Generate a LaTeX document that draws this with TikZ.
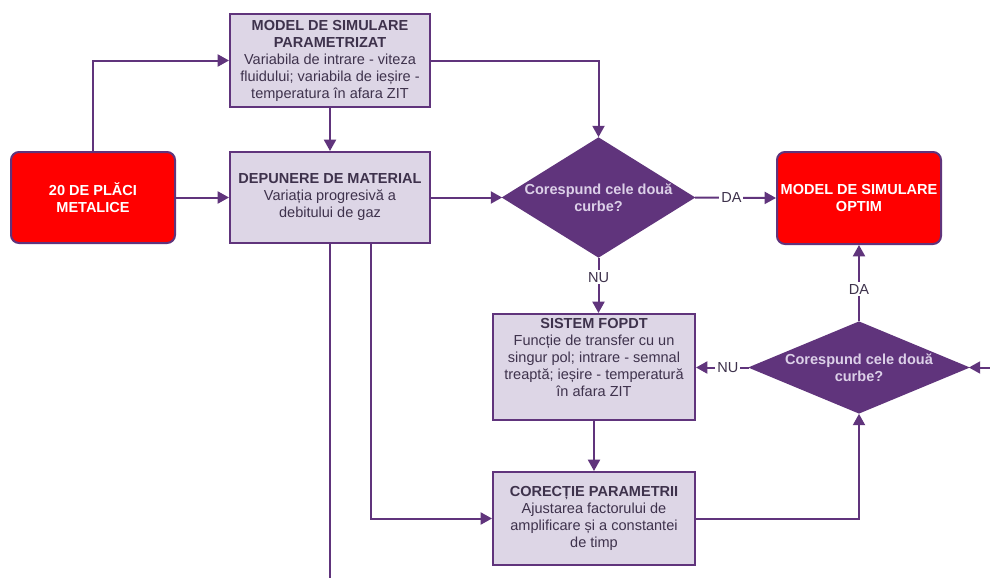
\documentclass[tikz,border=0pt]{standalone}
\usepackage{fontspec}
\setmainfont{Liberation Sans}
\usetikzlibrary{arrows.meta,shapes.geometric}
\definecolor{pline}{RGB}{96,52,124}
\definecolor{pfill}{RGB}{221,214,230}
\definecolor{ptext}{RGB}{62,50,76}
\definecolor{dtext}{RGB}{220,208,232}
\definecolor{redbox}{RGB}{255,0,0}
\begin{document}
\begin{tikzpicture}[x=0.75pt,y=-0.75pt,
  font=\fontsize{10.9}{12.75}\selectfont,
  box/.style={draw=pline,line width=1.5pt,fill=pfill,text=ptext,align=center,inner sep=0pt},
  rednode/.style={draw=pline,line width=1.5pt,fill=redbox,text=white,align=center,inner sep=0pt,rounded corners=6pt,font=\fontsize{10.9}{12.75}\selectfont\bfseries},
  decision/.style={diamond,draw=pline,line width=1.3pt,fill=pline,inner sep=0pt},
  dtextnode/.style={text=dtext,align=center,font=\fontsize{10.9}{12.75}\selectfont\bfseries},
  conn/.style={draw=pline,line width=1.5pt,-{Triangle[length=8.5pt,width=9pt]}},
  plainconn/.style={draw=pline,line width=1.5pt},
  lab/.style={fill=white,text=ptext,inner sep=1.5pt}
]
\useasboundingbox (0,0) rectangle (990,578);
\fill[white] (0,0) rectangle (990,578);

% nodes
\node[rednode,minimum width=123pt,minimum height=68.25pt] (red) at (93,197.5) {20 DE PLĂCI\\METALICE};
\node[box,minimum width=150pt,minimum height=69.75pt] (model) at (330,60.5)
  {\textbf{MODEL DE SIMULARE}\\\textbf{PARAMETRIZAT}\\Variabila de intrare - viteza\\fluidului; variabila de ieșire -\\temperatura în afara ZIT};
\node[box,minimum width=150pt,minimum height=68.25pt] (dep) at (330,197.5)
  {\textbf{DEPUNERE DE MATERIAL}\\Variația progresivă a\\debitului de gaz};
\node[decision,minimum width=143.25pt,minimum height=89.25pt] (d1) at (598.5,197.5) {};
\node[dtextnode] (d1t) at (598.5,198) {Corespund cele două\\curbe?};
\node[rednode,minimum width=123pt,minimum height=69pt] (opt) at (859,198) {MODEL DE SIMULARE\\OPTIM};
\node[box,minimum width=151.5pt,minimum height=79.5pt] (fop) at (594,367) {};
\node[text=ptext,align=center,anchor=north,inner sep=0pt] (fopt) at (594,318)
  {\textbf{SISTEM FOPDT}\\Funcție de transfer cu un\\singur pol; intrare - semnal\\treaptă; ieșire - temperatură\\în afara ZIT};
\node[box,minimum width=151.5pt,minimum height=69.75pt] (cor) at (594,518.5)
  {\textbf{CORECȚIE PARAMETRII}\\Ajustarea factorului de\\amplificare și a constantei\\de timp};
\node[decision,minimum width=163.5pt,minimum height=68.25pt] (d2) at (859,367.5) {};
\node[dtextnode] (d2t) at (859,368) {Corespund cele două\\curbe?};

\coordinate (bottomend) at (330,580);
\coordinate (rightend) at (992,367.5);

% connectors
\draw[conn] (red.north) |- (model.west);
\draw[conn] (red.east) -- (dep.west);
\draw[conn] (model.south) -- (dep.north);
\draw[conn] (model.east) -| (d1.north);
\draw[conn] (dep.east) -- (d1.west);
\draw[conn] (d1.east) -- node[lab,pos=0.45] (da1) {DA} (opt.west);
\draw[conn] (d1.south) -- node[lab,pos=0.35] (nu1) {NU} (d1.south |- fop.north);
\draw[conn] (fop.south) -- (cor.north);
\draw[conn] (d2.west) -- node[lab,pos=0.4] (nu2) {NU} (d2.west -| fop.east);
\draw[conn] (d2.north) -- node[lab,pos=0.42] (da2) {DA} (opt.south);
\draw[conn] (cor.east) -| (d2.south);
\draw[conn] (rightend) -- (d2.east);
\draw[plainconn] (dep.south) -- (bottomend);
\draw[conn] ([xshift=30.75pt]dep.south) |- (cor.west);
\end{tikzpicture}
\end{document}
